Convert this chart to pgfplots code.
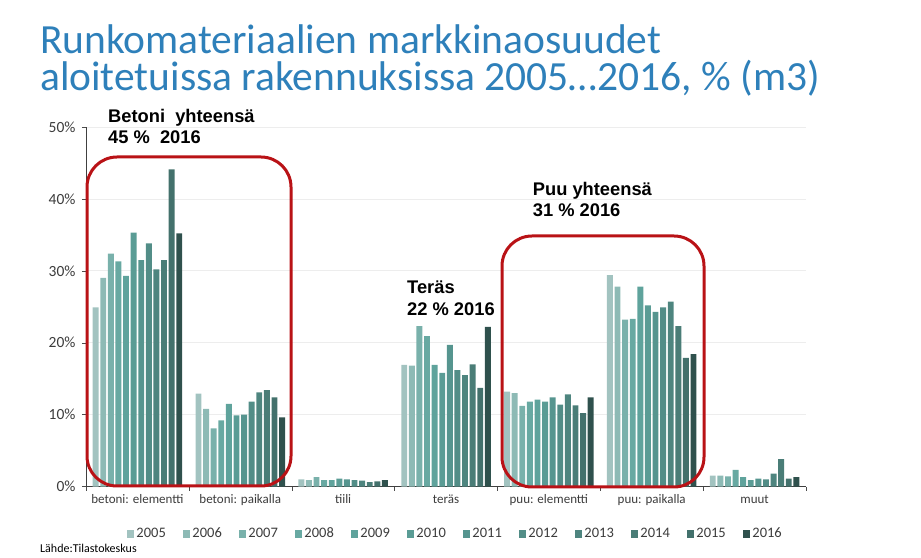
\documentclass[border=0pt]{standalone}
\usepackage{fontspec}
\setmainfont{Carlito}
\newfontfamily\arialfont{Liberation Sans}
\usepackage{pgfplots}
\pgfplotsset{compat=1.18}
\usepackage{pgfplotstable}

\definecolor{titleblue}{RGB}{46,128,186}
\definecolor{boxred}{RGB}{185,18,22}
\definecolor{labelgray}{RGB}{60,60,60}
\definecolor{c2005}{HTML}{A2C3C0}
\definecolor{c2006}{HTML}{8DBAB5}
\definecolor{c2007}{HTML}{79B1AB}
\definecolor{c2008}{HTML}{68A9A2}
\definecolor{c2009}{HTML}{5FA39C}
\definecolor{c2010}{HTML}{5A9C95}
\definecolor{c2011}{HTML}{56958F}
\definecolor{c2012}{HTML}{528D87}
\definecolor{c2013}{HTML}{4E857F}
\definecolor{c2014}{HTML}{4A7D77}
\definecolor{c2015}{HTML}{43716C}
\definecolor{c2016}{HTML}{2F514D}

% rows: betoni elementti, betoni paikalla, tiili, teras, puu elementti, puu paikalla, muut
\pgfplotstableread{
x y2005 y2006 y2007 y2008 y2009 y2010 y2011 y2012 y2013 y2014 y2015 y2016
0 24.9  29.0  32.4  31.3  29.3  35.3  31.5  33.8  30.2  31.5  44.1  35.2
1 12.9  10.8  8.1   9.2   11.5  9.9   10.0  11.8  13.1  13.4  12.4  9.6
2 1.0   0.9   1.3   0.9   0.9   1.1   1.0   0.9   0.8   0.6   0.7   0.9
3 16.9  16.8  22.3  20.9  16.9  15.8  19.7  16.2  15.5  17.0  13.7  22.2
4 13.2  13.0  11.2  11.8  12.1  11.8  12.4  11.4  12.8  11.3  10.2  12.4
5 29.4  27.8  23.2  23.3  27.8  25.2  24.3  24.9  25.7  22.3  17.9  18.4
6 1.5   1.5   1.4   2.3   1.3   0.9   1.1   1.0   1.8   3.8   1.1   1.3
}\shares

\begin{document}
\begin{tikzpicture}
\path (0,0) rectangle (921pt,557pt);

\node[anchor=base west,inner sep=0,text=titleblue,font=\fontsize{41.5}{42}\selectfont]
  at (40pt,503.5pt) {Runkomateriaalien markkinaosuudet};
\node[anchor=base west,inner sep=0,text=titleblue,font=\fontsize{41.5}{42}\selectfont]
  at (40pt,466pt) {aloitetuissa rakennuksissa 2005…2016, \% (m3)};

\begin{axis}[
  at={(86pt,70.5pt)},anchor=south west,
  scale only axis,width=720pt,height=359.5pt,
  ybar=1.7pt,bar width=5.9pt,
  xmin=-0.5,xmax=6.5,ymin=0,ymax=50,
  axis x line*=bottom,axis y line*=left,
  axis line style={black!75,line width=0.9pt},
  xtick={0,...,6},
  xticklabels={betoni: elementti,betoni: paikalla,tiili,teräs,puu: elementti,puu: paikalla,muut},
  minor xtick={-0.5,0.5,...,6.5},
  major x tick style={draw=none},
  minor x tick style={black!70},
  minor tick length=4pt,
  ytick={0,10,...,50},
  major tick length=4pt,
  tick align=outside,
  y tick style={black!70},
  ymajorgrids,grid style={black!7,line width=0.6pt},
  /pgf/number format/assume math mode=true,
  yticklabel={\pgfmathprintnumber{\tick}\%},
  yticklabel style={font=\fontsize{15.5}{16}\selectfont,text=labelgray,xshift=-3pt},
  xticklabel style={font=\fontsize{13}{14}\selectfont,text=labelgray,
    text height=1.6ex,text depth=0.4ex,yshift=-2pt},
  legend columns=12,
  legend style={draw=none,at={(0.513,-0.132)},anchor=center,
    font=\fontsize{14.5}{15}\selectfont,text=labelgray,
    nodes={text height=1.5ex,text depth=0.2ex},
    /tikz/every even column/.append style={column sep=15pt}},
  legend image code/.code={\fill[#1,draw=none] (0pt,-3.8pt) rectangle (7.6pt,3.8pt);},
]
\pgfplotsinvokeforeach{2005,2006,2007,2008,2009,2010,2011,2012,2013,2014,2015,2016}{
  \addplot[fill=c#1,draw=none] table[x=x,y=y#1]{\shares};
  \addlegendentry{#1}
}
\end{axis}

\draw[boxred,line width=3pt,rounded corners=30pt] (87pt,71pt) rectangle (291pt,400pt);
\draw[boxred,line width=3pt,rounded corners=30pt] (502pt,70pt) rectangle (704pt,321pt);

\begin{scope}[every node/.style={anchor=base west,inner sep=0,font=\arialfont\bfseries\fontsize{18.3}{20}\selectfont}]
\node at (108pt,434.3pt) {Betoni\ \ yhteensä};
\node at (108pt,413pt) {45 \%\ \ 2016};
\node at (407pt,263.7pt) {Teräs};
\node at (407pt,241.3pt) {22 \% 2016};
\node at (532.7pt,361pt) {Puu yhteensä};
\node at (532.7pt,340.3pt) {31 \% 2016};
\end{scope}

\node[anchor=base west,inner sep=0,font=\fontsize{12}{13}\selectfont] at (40pt,5pt) {Lähde:Tilastokeskus};
\end{tikzpicture}
\end{document}
